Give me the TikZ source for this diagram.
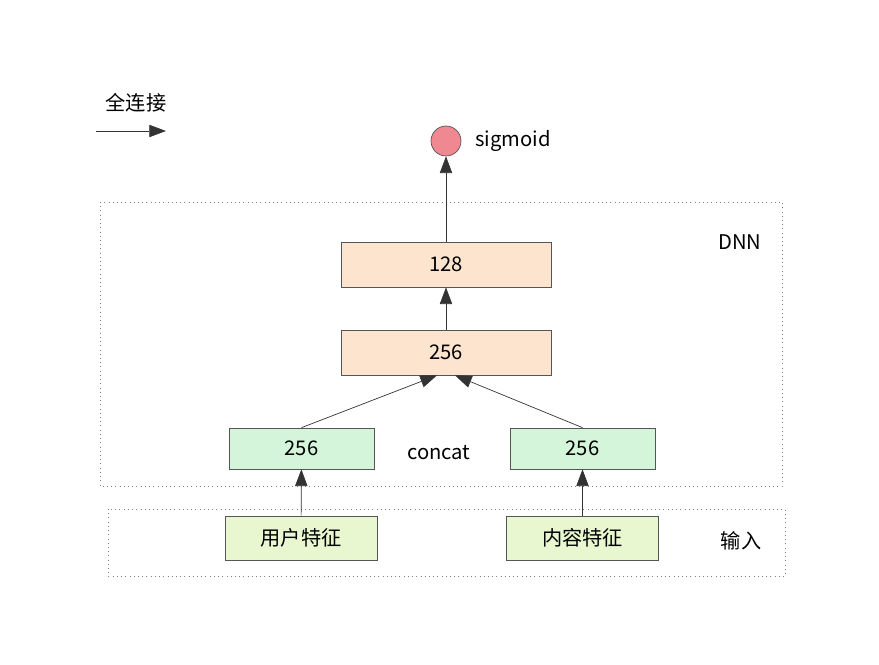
\documentclass[tikz,border=0pt]{standalone}
\usepackage{fontspec}
\setmainfont{Noto Sans CJK SC}
\usetikzlibrary{arrows.meta}
\definecolor{peach}{RGB}{252,228,206}
\definecolor{mint}{RGB}{213,245,218}
\definecolor{lime}{RGB}{232,247,208}
\definecolor{rose}{RGB}{240,136,146}
\definecolor{edge}{RGB}{85,85,85}
\tikzset{
  layer/.style={rectangle,draw=edge,fill=peach,minimum width=4.2cm,minimum height=0.9cm},
  embed/.style={rectangle,draw=edge,fill=mint,minimum width=2.9cm,minimum height=0.82cm},
  feat/.style={rectangle,draw=edge,fill=lime,minimum width=3.04cm,minimum height=0.88cm},
  group/.style={draw=gray,dotted,thin},
  conn/.style={draw=black!80,-{Triangle[length=9.5pt,width=7pt]}}
}
\begin{document}
\begin{tikzpicture}[x=0.02cm,y=-0.02cm,font=\fontsize{11.5pt}{13pt}\selectfont]
\useasboundingbox (0,0) rectangle (879,665);
\draw[group] (100,202) rectangle (782,486);
\draw[group] (108,509) rectangle (785,576);
\node (lgd) at (136,103) {全连接};
\coordinate (la) at (96,131);
\coordinate (lb) at (166,131);
\node[circle,draw=edge,fill=rose,minimum size=0.6cm,inner sep=0pt] (out) at (446,141) {};
\node[anchor=west] (sig) at (469,141) {sigmoid};
\node (dnn) at (740,242) {DNN};
\node (inp) at (741,541) {输入};
\node[layer] (d2) at (446,264.5) {128};
\node[layer] (d1) at (446,352.5) {256};
\node[embed] (u1) at (301.5,448.5) {256};
\node[embed] (c1) at (582.5,448.5) {256};
\node (cat) at (439,453) {concat};
\node[feat] (u0) at (301,538) {用户特征};
\node[feat] (c0) at (582.5,538) {内容特征};
\draw[conn] (la) -- (lb);
\draw[conn] (u0) -- (u1);
\draw[conn] (c0) -- (c1);
\draw[conn] (u1.north) -- ([xshift=-0.18cm]d1.south);
\draw[conn] (c1.north) -- ([xshift=0.18cm]d1.south);
\draw[conn] (d1) -- (d2);
\draw[conn] (d2) -- (out);
\end{tikzpicture}
\end{document}
